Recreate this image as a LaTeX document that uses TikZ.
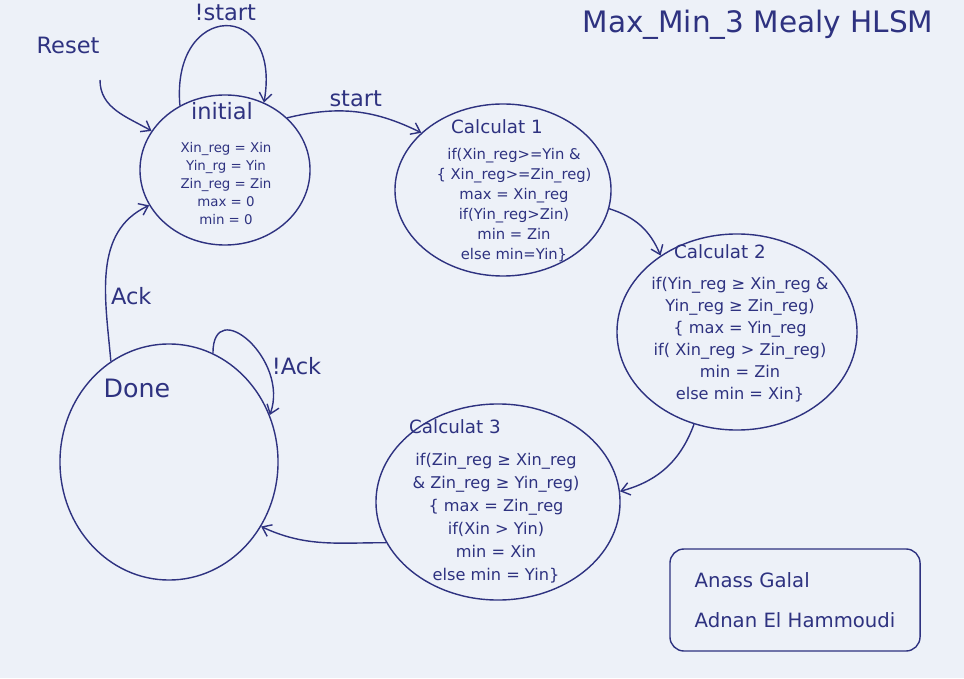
\documentclass[tikz,border=0pt]{standalone}
\usepackage{fontspec}
\setmainfont{DejaVu Sans}
\usepackage{tikz}
\usetikzlibrary{shapes,arrows,arrows.meta}
\usetikzlibrary{positioning,automata}
\definecolor{ink}{RGB}{46,50,128}
\definecolor{paper}{RGB}{237,241,248}
\tikzset{
  every state/.style={ellipse, draw=ink, inner sep=0pt},
  title text/.style={text=ink, font=\fontsize{13}{15}\selectfont},
  body text/.style={text=ink, align=center, font=\fontsize{10}{14}\selectfont},
  arc label/.style={text=ink, font=\fontsize{16}{18}\selectfont},
  namebox/.style={draw=ink, rounded corners=10pt, minimum width=6.25cm,
    minimum height=2.55cm, align=left, font=\fontsize{14}{16}\selectfont}
}

\begin{document}
\begin{tikzpicture}[> = {Straight Barb[length=6pt,width=9pt]}, x=0.025cm, y=0.025cm, line width=1pt, color=ink]
        \useasboundingbox (0,0) rectangle (964,678);
        \fill[paper] (0,0) rectangle (964,678);

        \node[state, minimum width=4.25cm, minimum height=3.75cm] (init)  at (225,508) {};
        \node[state, minimum width=5.4cm,  minimum height=4.3cm]  (calc1) at (503,488) {};
        \node[state, minimum width=6cm,    minimum height=4.9cm]  (calc2) at (737,346) {};
        \node[state, minimum width=6.1cm,  minimum height=4.9cm]  (calc3) at (498,176) {};
        \node[state, minimum width=5.45cm, minimum height=5.9cm]  (done)  at (169,216) {};

        \node[title text, font=\fontsize{16}{18}\selectfont] (init-title) at (222,567) {initial};
        \node[body text, font=\fontsize{9.5}{12.8}\selectfont] (init-body) at (226,494)
          {Xin\_reg = Xin\\Yin\_rg = Yin\\Zin\_reg = Zin\\max = 0\\min = 0};
        \node[title text] (calc1-title) at (497,551) {Calculat 1};
        \node[body text, font=\fontsize{10.5}{14.2}\selectfont] (calc1-body) at (514,473)
          {if(Xin\_reg>=Yin \&\\\{ Xin\_reg>=Zin\_reg)\\max = Xin\_reg\\if(Yin\_reg>Zin)\\min = Zin\\else min=Yin\}};
        \node[title text] (calc2-title) at (720,426) {Calculat 2};
        \node[body text, font=\fontsize{11.5}{15.6}\selectfont] (calc2-body) at (740,338)
          {if(Yin\_reg ≥ Xin\_reg \&\\Yin\_reg ≥ Zin\_reg)\\\{ max = Yin\_reg\\if( Xin\_reg > Zin\_reg)\\min = Zin\\else min = Xin\}};
        \node[title text] (calc3-title) at (455,251) {Calculat 3};
        \node[body text, font=\fontsize{11.5}{16.4}\selectfont] (calc3-body) at (496,160)
          {if(Zin\_reg ≥ Xin\_reg\\\& Zin\_reg ≥ Yin\_reg)\\\{ max = Zin\_reg\\if(Xin > Yin)\\min = Xin\\else min = Yin\}};
        \node[title text, font=\fontsize{18}{20}\selectfont] (done-title) at (137,290) {Done};

        \node[arc label] (reset) at (68,633) {Reset};
        \coordinate (reset-tail) at (100,598);
        \node[font=\fontsize{21}{24}\selectfont] (title) at (758,653) {Max\_Min\_3 Mealy HLSM};
        \node[namebox] (authors) at (795,78) {Anass Galal\\[12pt]Adnan El Hammoudi};

        \path[->] (reset-tail) edge [out=-90, in=150]              (init.152)
                  (init.125)   edge [out=95, in=80, looseness=3.2]  node [arc label, above] {!start} (init.60)
                  (init.40)    edge [bend left=20]                  node [arc label, above] {start}  (calc1.145)
                  (calc1.-10)  edge [bend left=25]                  (calc2.135)
                  (calc2.245)  edge [out=250, in=15]                (calc3.5)
                  (calc3.200)  edge [out=180, in=-25]               (done.-35)
                  (done.120)   edge [out=95, in=205]                node [arc label, right, pos=0.35] {Ack}  (init.205)
                  (done.68)    edge [out=90, in=70, looseness=1.8]  node [arc label, right, pos=0.7]  {!Ack} (done.25);
      \end{tikzpicture}
\end{document}
